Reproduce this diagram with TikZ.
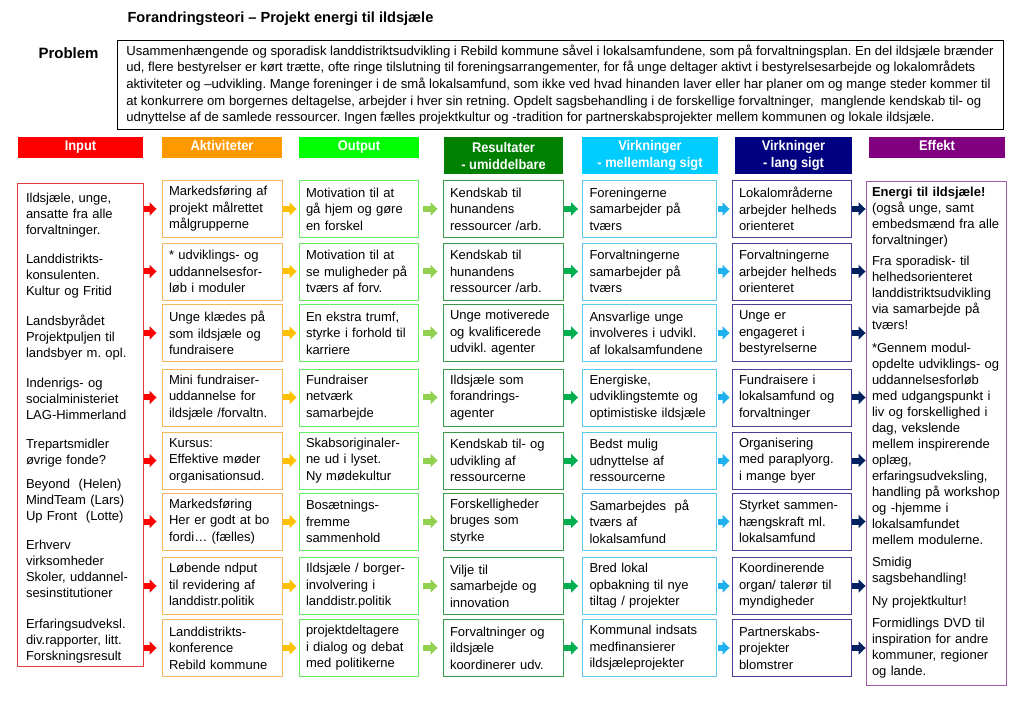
\documentclass[tikz,border=0pt]{standalone}
\usepackage{fontspec}
\setmainfont{Liberation Sans}
\newfontfamily\headfont[FakeStretch=0.92]{Liberation Sans}
\usetikzlibrary{arrows.meta}
\frenchspacing
\pgfdeclarelayer{edgelayer}
\pgfdeclarelayer{nodelayer}
\pgfsetlayers{edgelayer,nodelayer,main}
\definecolor{inred}{HTML}{FF0000}
\definecolor{actorange}{HTML}{FF9900}
\definecolor{outgreen}{HTML}{00FF00}
\definecolor{resgreen}{HTML}{008000}
\definecolor{midcyan}{HTML}{00CCFF}
\definecolor{longnavy}{HTML}{000080}
\definecolor{effpurple}{HTML}{800080}
\definecolor{inborder}{HTML}{E23C3C}
\definecolor{actborder}{HTML}{F6B65C}
\definecolor{outborder}{HTML}{66EE66}
\definecolor{resborder}{HTML}{3A9A48}
\definecolor{midborder}{HTML}{5CC8EC}
\definecolor{longborder}{HTML}{4A3F98}
\definecolor{effborder}{HTML}{A05BA8}
\definecolor{arrred}{HTML}{FF0000}
\definecolor{arrorange}{HTML}{FFC000}
\definecolor{arrlgreen}{HTML}{92D050}
\definecolor{arrdgreen}{HTML}{00B050}
\definecolor{arrcyan}{HTML}{1FB0EE}
\definecolor{arrnavy}{HTML}{002060}
\tikzstyle{header}=[text=white, font=\headfont\bfseries\fontsize{14}{17}\selectfont, align=center, inner sep=0pt]
\tikzstyle{oneline}=[text height=10pt, text depth=3pt, minimum height=21pt]
\tikzstyle{cell}=[draw, line width=0.9pt, fill=white, align=left, inner xsep=7pt, inner ysep=0pt, minimum height=57pt, font=\fontsize{13}{16.5}\selectfont]
\tikzstyle{column}=[draw, line width=0.9pt, fill=white, align=left, inner ysep=0pt, font=\fontsize{13}{16}\selectfont]
\tikzstyle{flow}=[line width=6pt, -{Triangle[length=7pt,width=13pt]}, shorten <=1pt, shorten >=2pt]

\begin{document}
\begin{tikzpicture}[x=1pt, y=1pt]
			\useasboundingbox (0, 0) rectangle (1023, -708);
			\begin{pgfonlayer}{nodelayer}
				\node [anchor=base west, font=\bfseries\fontsize{14.6}{17}\selectfont] (title) at (124, -23) {Forandringsteori -- Projekt energi til ildsjæle};
				\node [anchor=base west, font=\bfseries\fontsize{15}{18}\selectfont] (problem) at (35, -59) {Problem};
				\node [style=column, inner xsep=0pt, minimum width=886pt, minimum height=89pt, font=\fontsize{13.1}{16.7}\selectfont] (pbox) at (560, -84.5) {Usammenhængende og sporadisk landdistriktsudvikling i Rebild kommune såvel i lokalsamfundene, som på forvaltningsplan. En del ildsjæle brænder\\ud, flere bestyrelser er kørt trætte, ofte ringe tilslutning til foreningsarrangementer, for få unge deltager aktivt i bestyrelsesarbejde og lokalområdets\\aktiviteter og –udvikling. Mange foreninger i de små lokalsamfund, som ikke ved hvad hinanden laver eller har planer om og mange steder kommer til\\at konkurrere om borgernes deltagelse, arbejder i hver sin retning. Opdelt sagsbehandling i de forskellige forvaltninger,~ manglende kendskab til- og\\udnyttelse af de samlede ressourcer. Ingen fælles projektkultur og -tradition for partnerskabsprojekter mellem kommunen og lokale ildsjæle.};

				% column headers
				\node [style=header, style=oneline, fill=inred, minimum width=125pt] (hin) at (80.5, -147.5) {Input};
				\node [style=header, style=oneline, fill=actorange, minimum width=120pt] (hact) at (222, -147.5) {Aktiviteter};
				\node [style=header, style=oneline, fill=outgreen, minimum width=120pt] (hout) at (359, -147.5) {Output};
				\node [style=header, fill=resgreen, minimum width=119pt, minimum height=37pt] (hres) at (503.5, -155.5) {Resultater\\- umiddelbare};
				\node [style=header, fill=midcyan, minimum width=136pt, minimum height=37pt] (hmid) at (650, -155.5) {Virkninger\\- mellemlang sigt};
				\node [style=header, fill=longnavy, minimum width=117pt, minimum height=37pt] (hlong) at (793.5, -155.5) {Virkninger\\- lang sigt};
				\node [style=header, style=oneline, fill=effpurple, minimum width=136pt] (heff) at (937, -147.5) {Effekt};

				% input and effect columns
				\node [style=column, draw=inborder, inner xsep=9pt, text width=108pt, minimum height=483pt] (in) at (80, -424.5) {\rule{0pt}{17pt}Ildsjæle, unge,\\ansatte fra alle\\forvaltninger.\\[13pt]Landdistrikts-\\konsulenten.\\Kultur og Fritid\\[14pt]Landsbyrådet\\Projektpuljen til\\landsbyer m. opl.\\[14pt]Indenrigs- og\\socialministeriet\\LAG-Himmerland\\[13pt]Trepartsmidler\\øvrige fonde?\\[8pt]Beyond~ (Helen)\\MindTeam (Lars)\\Up Front~ (Lotte)\\[13pt]Erhverv\\virksomheder\\Skoler, uddannel-\\sesinstitutioner\\[15pt]Erfaringsudveksl.\\div.rapporter, litt.\\Forskningsresult};
				\node [style=column, draw=effborder, inner xsep=6pt, text width=128pt, minimum height=504pt] (eff) at (936, -433) {\textbf{Energi til ildsjæle!}\\(også unge, samt\\embedsmænd fra alle\\forvaltninger)\\[5pt]Fra sporadisk- til\\helhedsorienteret\\landdistriktsudvikling\\via samarbejde på\\tværs!\\[7pt]*Gennem modul-\\opdelte udviklings- og\\uddannelsesforløb\\med udgangspunkt i\\liv og forskellighed i\\dag, vekslende\\mellem inspirerende\\oplæg,\\erfaringsudveksling,\\handling på workshop\\og -hjemme i\\lokalsamfundet\\mellem modulerne.\\[6pt]Smidig\\sagsbehandling!\\[7pt]Ny projektkultur!\\[6pt]Formidlings DVD til\\inspiration for andre\\kommuner, regioner\\og lande.};

				% aktiviteter
				\node [style=cell, draw=actborder, text width=106pt] (a1) at (222, -209) {Markedsføring af\\projekt målrettet\\målgrupperne};
				\node [style=cell, draw=actborder, text width=106pt] (a2) at (222, -271.5) {* udviklings- og\\uddannelsesfor-\\løb i moduler};
				\node [style=cell, draw=actborder, text width=106pt] (a3) at (222, -333) {Unge klædes på\\som ildsjæle og\\fundraisere};
				\node [style=cell, draw=actborder, text width=106pt] (a4) at (222, -397.5) {Mini fundraiser-\\uddannelse for\\ildsjæle /forvaltn.};
				\node [style=cell, draw=actborder, text width=106pt] (a5) at (222, -460.5) {Kursus:\\Effektive møder\\organisationsud.};
				\node [style=cell, draw=actborder, text width=106pt] (a6) at (222, -521.5) {Markedsføring\\Her er godt at bo\\fordi… (fælles)};
				\node [style=cell, draw=actborder, text width=106pt] (a7) at (222, -586) {Løbende ndput\\til revidering af\\landdistr.politik};
				\node [style=cell, draw=actborder, text width=106pt] (a8) at (222, -648) {Landdistrikts-\\konference\\Rebild kommune};

				% output
				\node [style=cell, draw=outborder, text width=105pt] (o1) at (358.5, -209) {Motivation til at\\gå hjem og gøre\\en forskel};
				\node [style=cell, draw=outborder, text width=105pt] (o2) at (358.5, -271.5) {Motivation til at\\se muligheder på\\tværs af forv.};
				\node [style=cell, draw=outborder, text width=105pt] (o3) at (358.5, -333) {En ekstra trumf,\\styrke i forhold til\\karriere};
				\node [style=cell, draw=outborder, text width=105pt] (o4) at (358.5, -397.5) {Fundraiser\\netværk\\samarbejde};
				\node [style=cell, draw=outborder, text width=105pt] (o5) at (358.5, -460.5) {Skabsoriginaler-\\ne ud i lyset.\\Ny mødekultur};
				\node [style=cell, draw=outborder, text width=105pt] (o6) at (358.5, -521.5) {Bosætnings-\\fremme\\sammenhold};
				\node [style=cell, draw=outborder, text width=105pt] (o7) at (358.5, -586) {Ildsjæle / borger-\\involvering i\\landdistr.politik};
				\node [style=cell, draw=outborder, text width=105pt] (o8) at (358.5, -648) {projektdeltagere\\i dialog og debat\\med politikerne};

				% resultater
				\node [style=cell, draw=resborder, text width=106pt] (r1) at (503, -209) {Kendskab til\\hunandens\\ressourcer /arb.};
				\node [style=cell, draw=resborder, text width=106pt] (r2) at (503, -271.5) {Kendskab til\\hunandens\\ressourcer /arb.};
				\node [style=cell, draw=resborder, text width=106pt] (r3) at (503, -333) {Unge motiverede\\og kvalificerede\\udvikl. agenter};
				\node [style=cell, draw=resborder, text width=106pt] (r4) at (503, -397.5) {Ildsjæle som\\forandrings-\\agenter};
				\node [style=cell, draw=resborder, text width=106pt] (r5) at (503, -460.5) {Kendskab til- og\\udvikling af\\ressourcerne};
				\node [style=cell, draw=resborder, text width=106pt] (r6) at (503, -521.5) {Forskelligheder\\bruges som\\styrke};
				\node [style=cell, draw=resborder, text width=106pt] (r7) at (503, -586) {Vilje til\\samarbejde og\\innovation};
				\node [style=cell, draw=resborder, text width=106pt] (r8) at (503, -648) {Forvaltninger og\\ildsjæle\\koordinerer udv.};

				% virkninger - mellemlang sigt
				\node [style=cell, draw=midborder, text width=120pt] (m1) at (649.5, -209) {Foreningerne\\samarbejder på\\tværs};
				\node [style=cell, draw=midborder, text width=120pt] (m2) at (649.5, -271.5) {Forvaltningerne\\samarbejder på\\tværs};
				\node [style=cell, draw=midborder, text width=120pt] (m3) at (649.5, -333) {Ansvarlige unge\\involveres i udvikl.\\af lokalsamfundene};
				\node [style=cell, draw=midborder, text width=120pt] (m4) at (649.5, -397.5) {Energiske,\\udviklingstemte og\\optimistiske ildsjæle};
				\node [style=cell, draw=midborder, text width=120pt] (m5) at (649.5, -460.5) {Bedst mulig\\udnyttelse af\\ressourcerne};
				\node [style=cell, draw=midborder, text width=120pt] (m6) at (649.5, -521.5) {Samarbejdes~ på\\tværs af\\lokalsamfund};
				\node [style=cell, draw=midborder, text width=120pt] (m7) at (649.5, -586) {Bred lokal\\opbakning til nye\\tiltag / projekter};
				\node [style=cell, draw=midborder, text width=120pt] (m8) at (649.5, -648) {Kommunal indsats\\medfinansierer\\ildsjæleprojekter};

				% virkninger - lang sigt
				\node [style=cell, draw=longborder, text width=105pt] (l1) at (791.5, -209) {Lokalområderne\\arbejder helheds\\orienteret};
				\node [style=cell, draw=longborder, text width=105pt] (l2) at (791.5, -271.5) {Forvaltningerne\\arbejder helheds\\orienteret};
				\node [style=cell, draw=longborder, text width=105pt] (l3) at (791.5, -333) {Unge er\\engageret i\\bestyrelserne};
				\node [style=cell, draw=longborder, text width=105pt] (l4) at (791.5, -397.5) {Fundraisere i\\lokalsamfund og\\forvaltninger};
				\node [style=cell, draw=longborder, text width=105pt] (l5) at (791.5, -460.5) {Organisering\\med paraplyorg.\\i mange byer};
				\node [style=cell, draw=longborder, text width=105pt] (l6) at (791.5, -521.5) {Styrket sammen-\\hængskraft ml.\\lokalsamfund};
				\node [style=cell, draw=longborder, text width=105pt] (l7) at (791.5, -586) {Koordinerende\\organ/ talerør til\\myndigheder};
				\node [style=cell, draw=longborder, text width=105pt] (l8) at (791.5, -648) {Partnerskabs-\\projekter\\blomstrer};
			\end{pgfonlayer}
			\begin{pgfonlayer}{edgelayer}
				\draw [style=flow, arrred, shorten <=-2pt, shorten >=5pt] (a1.west -| in.east) to (a1.west);
				\draw [style=flow, arrred, shorten <=-2pt, shorten >=5pt] (a2.west -| in.east) to (a2.west);
				\draw [style=flow, arrred, shorten <=-2pt, shorten >=5pt] (a3.west -| in.east) to (a3.west);
				\draw [style=flow, arrred, shorten <=-2pt, shorten >=5pt] (a4.west -| in.east) to (a4.west);
				\draw [style=flow, arrred, shorten <=-2pt, shorten >=5pt] (a5.west -| in.east) to (a5.west);
				\draw [style=flow, arrred, shorten <=-2pt, shorten >=5pt] (a6.west -| in.east) to (a6.west);
				\draw [style=flow, arrred, shorten <=-2pt, shorten >=5pt] (a7.west -| in.east) to (a7.west);
				\draw [style=flow, arrred, shorten <=-2pt, shorten >=5pt] (a8.west -| in.east) to (a8.west);

				\draw [style=flow, arrorange] (a1.east) to (o1.west);
				\draw [style=flow, arrorange] (a2.east) to (o2.west);
				\draw [style=flow, arrorange] (a3.east) to (o3.west);
				\draw [style=flow, arrorange] (a4.east) to (o4.west);
				\draw [style=flow, arrorange] (a5.east) to (o5.west);
				\draw [style=flow, arrorange] (a6.east) to (o6.west);
				\draw [style=flow, arrorange] (a7.east) to (o7.west);
				\draw [style=flow, arrorange] (a8.east) to (o8.west);

				\draw [style=flow, arrlgreen, shorten <=5pt, shorten >=5pt] (o1.east) to (r1.west);
				\draw [style=flow, arrlgreen, shorten <=5pt, shorten >=5pt] (o2.east) to (r2.west);
				\draw [style=flow, arrlgreen, shorten <=5pt, shorten >=5pt] (o3.east) to (r3.west);
				\draw [style=flow, arrlgreen, shorten <=5pt, shorten >=5pt] (o4.east) to (r4.west);
				\draw [style=flow, arrlgreen, shorten <=5pt, shorten >=5pt] (o5.east) to (r5.west);
				\draw [style=flow, arrlgreen, shorten <=5pt, shorten >=5pt] (o6.east) to (r6.west);
				\draw [style=flow, arrlgreen, shorten <=5pt, shorten >=5pt] (o7.east) to (r7.west);
				\draw [style=flow, arrlgreen, shorten <=5pt, shorten >=5pt] (o8.east) to (r8.west);

				\draw [style=flow, arrdgreen, shorten >=4pt] (r1.east) to (m1.west);
				\draw [style=flow, arrdgreen, shorten >=4pt] (r2.east) to (m2.west);
				\draw [style=flow, arrdgreen, shorten >=4pt] (r3.east) to (m3.west);
				\draw [style=flow, arrdgreen, shorten >=4pt] (r4.east) to (m4.west);
				\draw [style=flow, arrdgreen, shorten >=4pt] (r5.east) to (m5.west);
				\draw [style=flow, arrdgreen, shorten >=4pt] (r6.east) to (m6.west);
				\draw [style=flow, arrdgreen, shorten >=4pt] (r7.east) to (m7.west);
				\draw [style=flow, arrdgreen, shorten >=4pt] (r8.east) to (m8.west);

				\draw [style=flow, arrcyan] (m1.east) to (l1.west);
				\draw [style=flow, arrcyan] (m2.east) to (l2.west);
				\draw [style=flow, arrcyan] (m3.east) to (l3.west);
				\draw [style=flow, arrcyan] (m4.east) to (l4.west);
				\draw [style=flow, arrcyan] (m5.east) to (l5.west);
				\draw [style=flow, arrcyan] (m6.east) to (l6.west);
				\draw [style=flow, arrcyan] (m7.east) to (l7.west);
				\draw [style=flow, arrcyan] (m8.east) to (l8.west);

				\draw [style=flow, arrnavy, shorten <=-2pt, shorten >=0pt] (l1.east) to (l1.east -| eff.west);
				\draw [style=flow, arrnavy, shorten <=-2pt, shorten >=0pt] (l2.east) to (l2.east -| eff.west);
				\draw [style=flow, arrnavy, shorten <=-2pt, shorten >=0pt] (l3.east) to (l3.east -| eff.west);
				\draw [style=flow, arrnavy, shorten <=-2pt, shorten >=0pt] (l4.east) to (l4.east -| eff.west);
				\draw [style=flow, arrnavy, shorten <=-2pt, shorten >=0pt] (l5.east) to (l5.east -| eff.west);
				\draw [style=flow, arrnavy, shorten <=-2pt, shorten >=0pt] (l6.east) to (l6.east -| eff.west);
				\draw [style=flow, arrnavy, shorten <=-2pt, shorten >=0pt] (l7.east) to (l7.east -| eff.west);
				\draw [style=flow, arrnavy, shorten <=-2pt, shorten >=0pt] (l8.east) to (l8.east -| eff.west);
			\end{pgfonlayer}
		\end{tikzpicture}
\end{document}
